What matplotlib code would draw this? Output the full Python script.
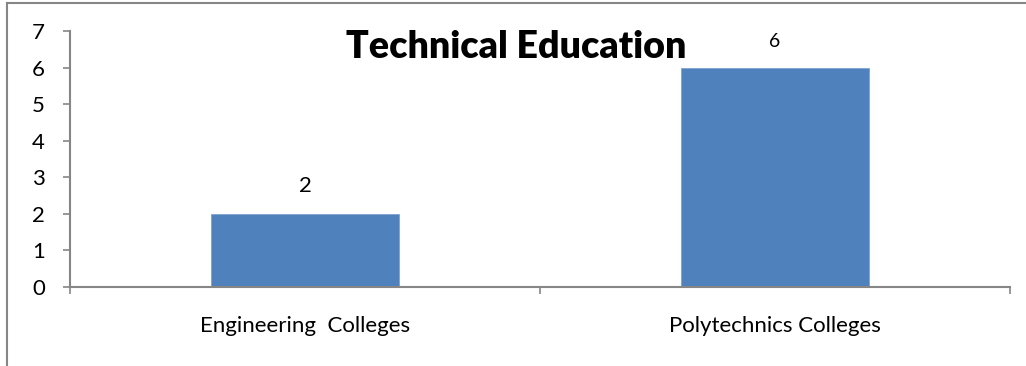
import matplotlib
matplotlib.use('Agg')
import matplotlib.pyplot as plt
from matplotlib.lines import Line2D

categories = ['Engineering  Colleges', 'Polytechnics Colleges']
counts = [2, 6]
yticks = [0, 1, 2, 3, 4, 5, 6, 7]

plt.rcParams['font.family'] = ['Lato', 'DejaVu Sans']

fig = plt.figure(figsize=(10.26, 3.66), dpi=100)
ax = fig.add_axes([70 / 1026, 79 / 366, 940 / 1026, 256 / 366])

x = list(range(len(categories)))
ax.bar(x, counts, width=0.4, color='#4F81BD', edgecolor='#7FA3D2', linewidth=0.6)

ax.set_xlim(-0.5, len(categories) - 0.5)
ax.set_ylim(0, 7)
ax.set_yticks(yticks)
ax.set_yticklabels([str(v) for v in yticks], fontsize=16)

# group boundaries as major ticks, names as minor ticks without marks
ax.set_xticks([i - 0.5 for i in range(len(categories) + 1)])
ax.set_xticklabels([])
ax.set_xticks(x, minor=True)
ax.set_xticklabels(categories, minor=True, fontsize=16)
ax.tick_params(axis='x', which='minor', length=0, pad=21)
ax.tick_params(axis='both', which='major', direction='out', length=5,
               width=1.2, color='#868686')
ax.tick_params(axis='y', pad=13)

for side in ['top', 'right']:
    ax.spines[side].set_visible(False)
for side in ['left', 'bottom']:
    ax.spines[side].set_color('#868686')
    ax.spines[side].set_linewidth(1.5)

label_sizes = [16, 14]
for xi, v, fs in zip(x, counts, label_sizes):
    ax.annotate(str(v), (xi, v), xytext=(0, 13), textcoords='offset points',
                ha='center', va='bottom', fontsize=fs)

fig.text(0.503, 1 - 58 / 366, 'Technical Education', ha='center',
         va='baseline', fontsize=27, fontweight='heavy')

# chart frame, only top and left edges fall inside the image
fig.add_artist(Line2D([7 / 1026, 1.0], [1 - 3 / 366, 1 - 3 / 366],
                      transform=fig.transFigure, color='#868686', lw=1.5))
fig.add_artist(Line2D([7 / 1026, 7 / 1026], [0.0, 1 - 3 / 366],
                      transform=fig.transFigure, color='#868686', lw=1.5))

fig.savefig('out.png', dpi=100)
